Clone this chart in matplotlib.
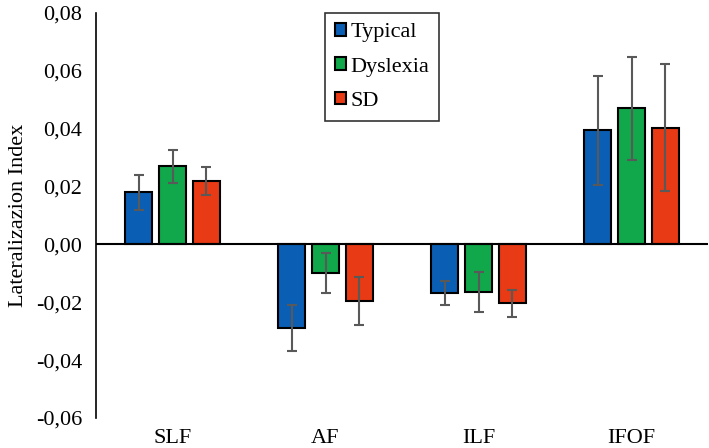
import matplotlib
matplotlib.use("Agg")
import matplotlib.pyplot as plt
import numpy as np
from matplotlib.ticker import FuncFormatter

categories = ["SLF", "AF", "ILF", "IFOF"]
groups = ["Typical", "Dyslexia", "SD"]
typical = [0.018, -0.029, -0.0168, 0.0395]
dyslexia = [0.027, -0.0099, -0.0166, 0.047]
sd = [0.022, -0.0196, -0.0204, 0.0403]
typical_err = [0.006, 0.008, 0.0043, 0.0188]
dyslexia_err = [0.0058, 0.0069, 0.0069, 0.0178]
sd_err = [0.0049, 0.0084, 0.0047, 0.022]
yticks = [-0.06, -0.04, -0.02, 0.0, 0.02, 0.04, 0.06, 0.08]

colors = ["#0A5FB4", "#10A84B", "#E83A14"]

plt.rcParams['font.family'] = ['Liberation Serif', 'DejaVu Serif']

fig = plt.figure(figsize=(7.09, 4.48), dpi=100)
ax = fig.add_axes([96/709, 1-418/448, 612/709, 405/448])

x = np.arange(len(categories))
width = 0.176
step = 0.222
series = [typical, dyslexia, sd]
errs = [typical_err, dyslexia_err, sd_err]
for i, (vals, err, c, lab) in enumerate(zip(series, errs, colors, groups)):
    ax.bar(x + (i-1)*step, vals, width, color=c, edgecolor="black", linewidth=1.5,
           label=lab, zorder=2)
    ax.errorbar(x + (i-1)*step, vals, yerr=err, fmt="none", ecolor="#595959",
                elinewidth=1.5, capsize=3.5, capthick=1.5, zorder=3)

ax.axhline(0, color="black", linewidth=1.5, zorder=4)
ax.set_xlim(-0.5, len(categories)-0.5)
ax.set_ylim(-0.06, 0.08)
ax.set_yticks(yticks)
ax.yaxis.set_major_formatter(FuncFormatter(lambda v, p: f"{v:.2f}".replace(".", ",").replace("-0,00", "0,00")))
ax.set_xticks(x)
ax.set_xticklabels(categories)
ax.tick_params(axis="both", length=0, labelsize=16)
ax.tick_params(axis="y", pad=10)
ax.tick_params(axis="x", pad=8)
for s in ["top", "right", "bottom"]:
    ax.spines[s].set_visible(False)
ax.spines["left"].set_linewidth(1.2)
ax.set_ylabel("Lateralizazion Index", fontsize=16, labelpad=6)

leg = ax.legend(loc="upper left", bbox_to_anchor=((325-96)/612, 1.0), fontsize=16,
                frameon=True, fancybox=False, edgecolor="black", handlelength=0.5,
                handleheight=0.5, handletextpad=0.2, borderpad=0.45, labelspacing=0.68,
                borderaxespad=0.0)
leg.get_frame().set_linewidth(1.2)

fig.savefig("out.png", dpi=100)
